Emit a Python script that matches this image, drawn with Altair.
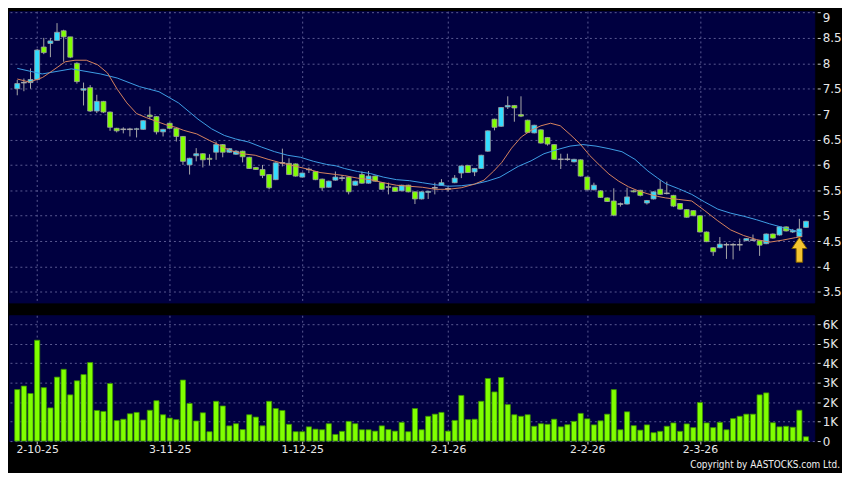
import altair as alt
import pandas as pd

# ---------------- data ----------------
opens = [7.50, 7.62, 7.62, 7.68, 8.32, 8.39, 8.45, 8.64, 8.52, 8.00,
         7.47, 7.52, 7.06, 7.25, 7.04, 6.72, 6.70, 6.70, 6.70, 6.70,
         6.98, 6.95, 6.65, 6.82, 6.72, 6.56, 6.00, 6.18, 6.22, 6.13,
         6.25, 6.40, 6.25, 6.21, 6.27, 6.15, 5.95, 5.91, 5.81, 5.71,
         6.04, 6.03, 6.02, 5.76, 5.91, 5.87, 5.72, 5.56, 5.70, 5.74,
         5.76, 5.60, 5.81, 5.64, 5.78, 5.65, 5.57, 5.56, 5.49, 5.60,
         5.47, 5.33, 5.46, 5.55, 5.60, 5.53, 5.65, 5.84, 5.99, 5.86,
         5.93, 6.27, 6.90, 6.76, 7.14, 7.17, 6.99, 6.88, 6.63, 6.69,
         6.54, 6.40, 6.11, 6.11, 6.06, 6.10, 5.76, 5.51, 5.49, 5.35,
         5.29, 5.23, 5.23, 5.49, 5.50, 5.25, 5.33, 5.52, 5.44, 5.40,
         5.24, 5.12, 5.10, 5.00, 4.68, 4.37, 4.37, 4.43, 4.43, 4.43,
         4.51, 4.52, 4.51, 4.45, 4.64, 4.62, 4.78, 4.68, 4.59, 4.77]
highs = [7.67, 7.70, 7.90, 8.28, 8.50, 8.50, 8.79, 8.66, 8.52, 8.02,
         7.62, 7.57, 7.38, 7.26, 7.05, 6.73, 6.74, 6.73, 6.73, 6.88,
         7.15, 6.96, 6.71, 6.83, 6.73, 6.57, 6.14, 6.33, 6.23, 6.21,
         6.46, 6.41, 6.33, 6.29, 6.28, 6.16, 5.96, 6.00, 5.82, 6.05,
         6.32, 6.13, 6.03, 5.85, 5.95, 5.88, 5.73, 5.69, 5.87, 5.80,
         5.77, 5.69, 5.87, 5.88, 5.79, 5.66, 5.65, 5.57, 5.61, 5.61,
         5.48, 5.48, 5.49, 5.65, 5.72, 5.58, 5.80, 5.99, 6.00, 5.94,
         6.20, 6.68, 6.91, 7.14, 7.35, 7.18, 7.35, 6.89, 6.79, 6.70,
         6.55, 6.41, 6.22, 6.22, 6.12, 6.11, 5.77, 5.65, 5.50, 5.36,
         5.54, 5.26, 5.55, 5.51, 5.51, 5.31, 5.48, 5.70, 5.67, 5.41,
         5.25, 5.13, 5.11, 5.01, 4.69, 4.38, 4.58, 4.47, 4.46, 4.55,
         4.56, 4.63, 4.52, 4.65, 4.65, 4.79, 4.79, 4.74, 4.94, 4.90]
lows = [7.37, 7.45, 7.50, 7.66, 8.18, 8.12, 8.45, 8.03, 8.10, 7.60,
        7.17, 7.04, 7.02, 7.02, 6.67, 6.64, 6.62, 6.56, 6.54, 6.69,
        6.90, 6.60, 6.56, 6.70, 6.46, 6.00, 5.81, 6.07, 5.95, 5.99,
        6.10, 6.15, 6.24, 6.20, 6.05, 5.92, 5.90, 5.74, 5.52, 5.70,
        5.97, 5.80, 5.77, 5.75, 5.84, 5.70, 5.49, 5.55, 5.69, 5.68,
        5.42, 5.59, 5.63, 5.63, 5.67, 5.51, 5.42, 5.47, 5.48, 5.46,
        5.23, 5.32, 5.33, 5.42, 5.59, 5.48, 5.64, 5.74, 5.84, 5.78,
        5.92, 6.26, 6.68, 6.75, 7.10, 6.85, 6.94, 6.63, 6.62, 6.42,
        6.38, 6.10, 5.92, 6.08, 6.05, 5.77, 5.50, 5.50, 5.35, 5.27,
        4.99, 5.18, 5.22, 5.46, 5.38, 5.22, 5.32, 5.41, 5.42, 5.17,
        5.12, 4.96, 4.99, 4.67, 4.48, 4.21, 4.36, 4.15, 4.14, 4.31,
        4.50, 4.50, 4.21, 4.44, 4.55, 4.61, 4.69, 4.66, 4.58, 4.76]
closes = [7.60, 7.62, 7.68, 8.26, 8.21, 8.44, 8.61, 8.52, 8.12, 7.64,
          7.50, 7.06, 7.25, 7.04, 6.74, 6.67, 6.70, 6.70, 6.71, 6.87,
          6.95, 6.65, 6.70, 6.72, 6.56, 6.07, 6.13, 6.22, 6.10, 6.11,
          6.40, 6.25, 6.32, 6.27, 6.16, 5.93, 5.91, 5.79, 5.55, 6.04,
          6.04, 5.81, 5.78, 5.84, 5.91, 5.71, 5.55, 5.68, 5.76, 5.74,
          5.47, 5.68, 5.64, 5.78, 5.68, 5.52, 5.56, 5.48, 5.60, 5.47,
          5.33, 5.47, 5.48, 5.55, 5.65, 5.53, 5.74, 5.98, 5.85, 5.93,
          6.19, 6.67, 6.74, 7.13, 7.17, 7.12, 6.96, 6.64, 6.78, 6.43,
          6.41, 6.11, 6.11, 6.11, 6.11, 5.78, 5.51, 5.60, 5.36, 5.28,
          5.01, 5.23, 5.37, 5.47, 5.40, 5.30, 5.47, 5.42, 5.44, 5.19,
          5.13, 4.97, 5.00, 4.68, 4.49, 4.29, 4.44, 4.43, 4.43, 4.43,
          4.55, 4.52, 4.42, 4.64, 4.56, 4.78, 4.70, 4.71, 4.74, 4.89]
volumes_k = [2.64, 2.82, 2.44, 5.17, 2.74, 1.70, 3.28, 3.68, 2.37, 3.09,
             3.41, 4.03, 1.57, 1.52, 2.95, 1.05, 1.12, 1.40, 1.47, 1.08,
             1.58, 2.07, 1.35, 1.18, 1.10, 3.13, 1.93, 1.03, 1.45, 0.48,
             2.04, 1.80, 0.78, 0.89, 0.59, 1.35, 1.23, 0.78, 2.04, 1.67,
             1.57, 0.86, 0.48, 0.48, 0.73, 0.61, 0.58, 0.89, 0.34, 0.50,
             1.01, 0.89, 0.58, 0.58, 0.51, 0.78, 0.59, 0.51, 0.96, 0.48,
             1.67, 0.58, 1.27, 1.38, 1.47, 0.51, 1.06, 2.34, 1.10, 1.12,
             2.04, 3.21, 2.52, 3.26, 1.87, 1.35, 1.27, 1.35, 0.76, 0.89,
             0.86, 1.12, 0.73, 0.84, 1.01, 1.42, 1.14, 0.83, 1.04, 1.38,
             2.64, 0.58, 1.50, 0.79, 0.56, 0.83, 0.43, 0.50, 0.76, 0.93,
             0.50, 0.88, 0.69, 1.98, 0.93, 0.69, 0.96, 0.58, 1.15, 1.27,
             1.38, 1.38, 2.37, 2.47, 0.94, 0.73, 0.76, 0.71, 1.58, 0.22]

tick_idx = [3, 23, 43, 65, 86, 103]
tick_lbl = ["2-10-25", "3-11-25", "1-12-25", "2-1-26", "2-2-26", "2-3-26"]

ma_short_x = [0, 1.85, 3.81, 5.27, 7.24, 8.71, 10.42, 12.14, 13.61, 15.08,
              16.54, 18.01, 19.48, 20.95, 22.42, 23.89, 25.11, 27.08, 29.03, 30.50,
              31.97, 33.93, 35.90, 37.85, 39.80, 41.77, 43.73, 45.68, 48.13, 49.35,
              51.32, 53.28, 55.23, 57.20, 59.15, 61.11, 63.08, 65.03, 66.98, 68.95,
              70.42, 71.89, 73.11, 74.58, 76.05, 77.52, 79.0, 80.46, 81.93, 83.40,
              84.87, 86.34, 87.81, 89.27, 90.74, 92.21, 93.68, 95.15, 96.62, 97.84,
              99.81, 101.76, 103.72, 105.69, 107.64, 109.60, 111.56, 113.52, 115.48, 117.45,
              118.43]
ma_short_v = [7.69, 7.63, 7.72, 7.85, 8.03, 8.06, 8.06, 7.97, 7.81, 7.49,
              7.22, 7.01, 6.93, 6.86, 6.79, 6.74, 6.68, 6.61, 6.48, 6.39,
              6.29, 6.22, 6.19, 6.11, 6.04, 5.98, 5.92, 5.85, 5.81, 5.79,
              5.74, 5.71, 5.65, 5.60, 5.58, 5.56, 5.52, 5.52, 5.55, 5.62,
              5.70, 5.88, 6.05, 6.33, 6.55, 6.68, 6.77, 6.82, 6.77, 6.60,
              6.42, 6.19, 6.00, 5.82, 5.68, 5.57, 5.49, 5.43, 5.38, 5.35,
              5.32, 5.29, 5.10, 4.90, 4.72, 4.61, 4.53, 4.48, 4.52, 4.57,
              4.59]
ma_long_x = [0, 3.76, 8.17, 12.58, 15.08, 18.45, 21.39, 24.33, 27.27, 29.32,
             31.24, 32.96, 34.91, 36.87, 38.83, 40.79, 42.74, 44.71, 46.66, 48.13,
             49.35, 51.32, 53.28, 55.23, 57.20, 59.15, 61.11, 63.08, 65.03, 66.98,
             68.95, 70.91, 72.82, 75.57, 77.52, 79.47, 81.43, 83.40, 85.35, 87.32,
             89.27, 91.23, 93.19, 95.15, 96.62, 97.84, 99.81, 101.76, 103.72, 105.69,
             107.64, 109.60, 111.56, 113.52, 115.48, 117.45, 118.43]
ma_long_v = [7.90, 7.79, 7.89, 7.79, 7.71, 7.54, 7.44, 7.22, 6.90, 6.71,
             6.58, 6.51, 6.45, 6.35, 6.26, 6.19, 6.15, 6.07, 6.01, 5.98,
             5.93, 5.87, 5.83, 5.76, 5.71, 5.69, 5.65, 5.61, 5.58, 5.59,
             5.62, 5.68, 5.76, 5.97, 6.08, 6.22, 6.30, 6.37, 6.40, 6.37,
             6.32, 6.26, 6.11, 5.88, 5.74, 5.63, 5.53, 5.42, 5.27, 5.13,
             5.05, 4.99, 4.92, 4.84, 4.77, 4.70, 4.66]

price_ticks = [3.5, 4, 4.5, 5, 5.5, 6, 6.5, 7, 7.5, 8, 8.5, 9]
vol_ticks = [0, 1, 2, 3, 4, 5, 6]
arrow_idx = [118]
arrow_price = [4.33]
copyright_text = ["Copyright by AASTOCKS.com Ltd."]

# ---------------- tables ----------------
n = len(opens)
df = pd.DataFrame({"i": list(range(n)), "open": opens, "high": highs,
                   "low": lows, "close": closes, "vol": volumes_k})
df["dir"] = ["up" if c > o else ("down" if c < o else "flat")
             for o, c in zip(opens, closes)]
ma_s = pd.DataFrame({"x": ma_short_x, "v": ma_short_v})
ma_l = pd.DataFrame({"x": ma_long_x, "v": ma_long_v})
arrow_df = pd.DataFrame({"x": arrow_idx, "v": arrow_price})
copy_df = pd.DataFrame({"t": copyright_text})

# ---------------- style ----------------
W, PH, VH = 813, 294, 127
NAVY = "#000040"
CYAN = "#33ddff"
LIME = "#80ff00"
GRID = "#5a5a92"
LBL = "#e8e8e8"
FONT = "DejaVu Sans"
DASH = [2, 3]

xscale = alt.Scale(domain=[-0.5, n - 0.5], nice=False, zero=False)
yscale = alt.Scale(domain=[3.294, 9.025], nice=False, zero=False)
vscale = alt.Scale(domain=[0, 6.45], nice=False)

label_expr = " : ".join(f"datum.value == {i} ? '{l}'" for i, l in zip(tick_idx, tick_lbl)) + " : ''"

x_price_axis = alt.Axis(values=tick_idx, labels=False, ticks=False, domain=False,
                        grid=True, gridColor=GRID, gridDash=DASH, gridWidth=1, title=None)
x_vol_axis = alt.Axis(values=tick_idx, labelExpr=label_expr, domain=False, grid=True,
                      gridColor=GRID, gridDash=DASH, gridWidth=1, ticks=True, tickSize=3,
                      tickColor="#cccccc", labelColor=LBL, labelFont=FONT, labelFontSize=11,
                      labelPadding=0, labelFlush=False, labelOverlap=False, title=None)
y_price_axis = alt.Axis(orient="right", values=price_ticks, format="~g", domain=False,
                        grid=True, gridColor=GRID, gridDash=DASH, gridWidth=1,
                        ticks=True, tickSize=3, tickColor="#cccccc", offset=3, labelPadding=2,
                        labelColor=LBL, labelFont=FONT, labelFontSize=12, labelFlush=2,
                        labelOverlap=False, title=None)
y_vol_axis = alt.Axis(orient="right", values=vol_ticks,
                      labelExpr="datum.value == 0 ? '0' : datum.value + 'K'", domain=False,
                      grid=True, gridColor=GRID, gridDash=DASH, gridWidth=1,
                      ticks=True, tickSize=3, tickColor="#cccccc", offset=3, labelPadding=2,
                      labelColor=LBL, labelFont=FONT, labelFontSize=12, labelFlush=False,
                      labelOverlap=False, title=None)

base = alt.Chart(df)
X = alt.X("i:Q", scale=xscale, axis=x_price_axis)

wicks = base.mark_rule(color="#a8a8a8", strokeWidth=1).encode(
    x=X, y=alt.Y("low:Q", scale=yscale, axis=y_price_axis), y2="high:Q")
bodies = base.mark_bar(size=5, stroke="#a0a0a0", strokeWidth=0.8).encode(
    x=X, y=alt.Y("open:Q", scale=yscale, axis=y_price_axis), y2="close:Q",
    color=alt.Color("dir:N", scale=alt.Scale(domain=["up", "down", "flat"],
                                             range=[CYAN, LIME, "#a8a8a8"]), legend=None))
dojis = base.mark_tick(orient="horizontal", size=6, thickness=1.5, color="#b0b0b0").encode(
    x=X, y=alt.Y("close:Q", scale=yscale, axis=y_price_axis)
).transform_filter(alt.datum.dir == "flat")

ma_short = alt.Chart(ma_s).mark_line(color="#d8845e", strokeWidth=1).encode(
    x=alt.X("x:Q", scale=xscale, axis=x_price_axis),
    y=alt.Y("v:Q", scale=yscale, axis=y_price_axis))
ma_long = alt.Chart(ma_l).mark_line(color="#3f9fe6", strokeWidth=1).encode(
    x=alt.X("x:Q", scale=xscale, axis=x_price_axis),
    y=alt.Y("v:Q", scale=yscale, axis=y_price_axis))

ARROW = "M0,-1 L0.6,-0.1 L0.26,-0.1 L0.26,1 L-0.26,1 L-0.26,-0.1 L-0.6,-0.1 Z"
arrow = alt.Chart(arrow_df).mark_point(shape=ARROW, filled=True, size=640, fill="#f4c430",
                                       stroke="#7a5a00", strokeWidth=1, opacity=1).encode(
    x=alt.X("x:Q", scale=xscale, axis=x_price_axis),
    y=alt.Y("v:Q", scale=yscale, axis=y_price_axis))

price = alt.layer(wicks, bodies, dojis, ma_long, ma_short, arrow).properties(width=W, height=PH)

vbars = base.mark_bar(size=5.2, color=LIME, stroke="#3a9000", strokeWidth=0.8).encode(
    x=alt.X("i:Q", scale=xscale, axis=x_vol_axis),
    y=alt.Y("vol:Q", scale=vscale, axis=y_vol_axis))
copyright_mark = alt.Chart(copy_df).mark_text(
    align="right", baseline="alphabetic", fontSize=10,
    font="DejaVu Sans Condensed, DejaVu Sans", color="#f0f0f0").encode(
    x=alt.value(W + 26), y=alt.value(VH + 27), text="t:N")

volume = alt.layer(vbars, copyright_mark).properties(width=W, height=VH)

chart = alt.vconcat(price, volume, spacing=11).configure(
    background="#000000",
    padding={"left": 0, "right": 0, "top": 0, "bottom": 0}
).configure_view(fill=NAVY, stroke=NAVY)

chart.save("out.html", embed_options={"renderer": "svg", "actions": False})
